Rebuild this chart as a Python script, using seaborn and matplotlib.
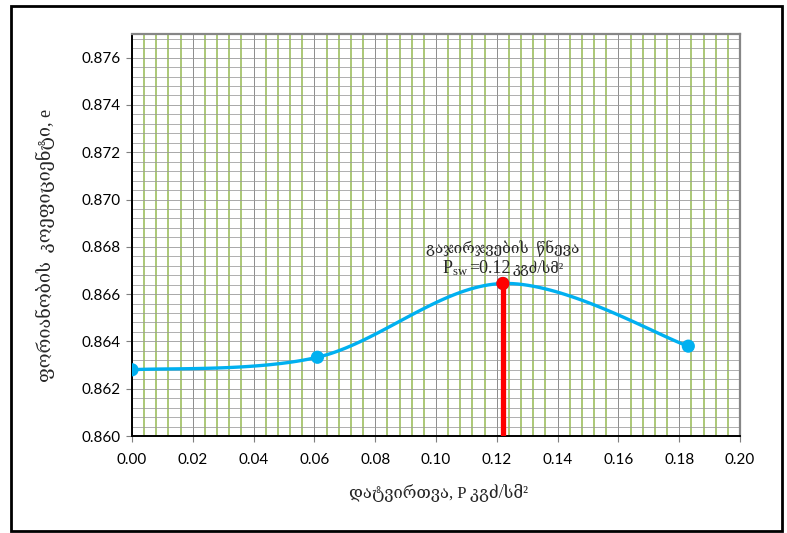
import numpy as np
import pandas as pd
import matplotlib
matplotlib.use("Agg")
import matplotlib.pyplot as plt
import matplotlib.patches as mpatches
from matplotlib.offsetbox import TextArea, HPacker, VPacker, AnnotationBbox
import seaborn as sns

# ---- data ----
load = [0.0, 0.061, 0.122, 0.183]
void_ratio = [0.8628, 0.86333, 0.86645, 0.8638]
swell_load = 0.122
swell_e = 0.86645
x_ticks = [0.00, 0.02, 0.04, 0.06, 0.08, 0.10, 0.12, 0.14, 0.16, 0.18, 0.20]
y_ticks = [0.860, 0.862, 0.864, 0.866, 0.868, 0.870, 0.872, 0.874, 0.876]
xlabel = "დატვირთვა, P კგძ/სმ²"
ylabel = "ფორიანობის  კოეფიციენტი, e"
ann_line1 = "გაჯირჯვების  წნევა"
ann_p = r"$\mathrm{P_{sw}}$"
ann_val = "=0.12"
ann_unit = "კგძ/სმ²"

sns.set_theme(style="white")
serif = ["Liberation Serif", "DejaVu Serif", "DejaVu Sans"]
plt.rcParams["font.family"] = ["Lato", "DejaVu Sans"]
plt.rcParams["mathtext.fontset"] = "custom"
plt.rcParams["mathtext.rm"] = "Liberation Serif"
plt.rcParams["mathtext.it"] = "Liberation Serif:italic"

fig = plt.figure(figsize=(7.87, 5.33), dpi=100)
ax = fig.add_axes([132/787, 1-436/533, (740-132)/787, (436-34)/533])

# Excel-like smoothing (Catmull-Rom Bezier) computed from data at draw time
def smooth(xs, ys, n=40):
    P = np.column_stack([xs, ys])
    out = [P[0]]
    for i in range(len(P)-1):
        p0 = P[i-1] if i > 0 else P[i]
        p1 = P[i]
        p2 = P[i+1]
        p3 = P[i+2] if i+2 < len(P) else P[i+1]
        c1 = p1 + (p2 - p0)/6
        c2 = p2 - (p3 - p1)/6
        t = np.linspace(0, 1, n)[1:, None]
        seg = (1-t)**3*p1 + 3*(1-t)**2*t*c1 + 3*(1-t)*t**2*c2 + t**3*p2
        out.extend(seg)
    out = np.array(out)
    return out[:, 0], out[:, 1]

sx, sy = smooth(load, void_ratio)
curve = pd.DataFrame({"x": sx, "y": sy})
sns.lineplot(data=curve, x="x", y="y", sort=False, ax=ax, color="#00B0F0",
             linewidth=2.4, zorder=3, estimator=None)
pts = pd.DataFrame({"x": load, "y": void_ratio})
sns.scatterplot(data=pts, x="x", y="y", ax=ax, color="#00B0F0", s=90,
                edgecolor="none", zorder=4)

# red vertical line at swelling pressure
ax.plot([swell_load, swell_load], [y_ticks[0], swell_e], color="#FF0000",
        linewidth=3.8, zorder=5, solid_capstyle="butt")
ax.scatter([swell_load], [swell_e], s=90, color="#FF0000", zorder=6,
           edgecolors="none")

ax.set_xlim(0, 0.20)
ax.set_ylim(0.860, 0.8770)
ax.set_xticks(x_ticks)
ax.set_xticklabels([f"{v:.2f}" for v in x_ticks])
ax.set_yticks(y_ticks)
ax.set_yticklabels([f"{v:.3f}" for v in y_ticks])
ax.set_xticks(np.arange(0, 0.2001, 0.004), minor=True)
ax.set_yticks(np.arange(0.860, 0.8770, 0.0004), minor=True)

ax.grid(False)
ax.xaxis.grid(True, which="minor", color="#A5C46B", linewidth=1.3, zorder=0)
ax.xaxis.grid(True, which="major", color="#8C8C8C", linewidth=0.7, zorder=0)
ax.yaxis.grid(True, which="minor", color="#9A9A9A", linewidth=0.55, zorder=0)
ax.yaxis.grid(True, which="major", color="#9A9A9A", linewidth=0.6, zorder=0)
ax.set_axisbelow(True)

ax.tick_params(axis="both", which="major", labelsize=11, colors="black",
               length=4, width=0.8, direction="out", pad=4, color="#7F7F7F")
ax.tick_params(axis="both", which="minor", length=0)
ax.tick_params(axis="x", bottom=True, pad=8)
ax.tick_params(axis="y", left=True)

for s in ["left", "bottom"]:
    ax.spines[s].set_color("black")
    ax.spines[s].set_linewidth(1.4)
for s in ["top", "right"]:
    ax.spines[s].set_color("#868686")
    ax.spines[s].set_linewidth(1.6)

ax.set_xlabel("")
ax.set_ylabel("")
fig.text(438/787, 1-493/533, xlabel, ha="center", va="center",
         fontsize=12, family=serif)
fig.text(45/787, 1-245/533, ylabel, ha="center", va="center",
         rotation=90, fontsize=13, family=serif)

# annotation
t1 = TextArea(ann_line1, textprops=dict(fontsize=11, family=serif))
tp = TextArea(ann_p, textprops=dict(fontsize=13))
tv = TextArea(ann_val, textprops=dict(fontsize=13, family=serif))
tu = TextArea(ann_unit, textprops=dict(fontsize=10.5, family=serif))
line2 = HPacker(children=[tp, tv, tu], align="baseline", pad=0, sep=1)
box = VPacker(children=[t1, line2], align="center", pad=0, sep=1)
ab = AnnotationBbox(box, (swell_load, swell_e), xybox=(0, 4),
                    xycoords="data", boxcoords="offset points",
                    box_alignment=(0.5, 0), frameon=False, zorder=7)
ax.add_artist(ab)

# outer frame
fig.patches.append(mpatches.Rectangle((11/787, 1-530.5/533), (781.5-11)/787,
                   (530.5-6)/533, transform=fig.transFigure, fill=False,
                   edgecolor="black", linewidth=2.0, zorder=10))

fig.savefig("out.png", dpi=100)
